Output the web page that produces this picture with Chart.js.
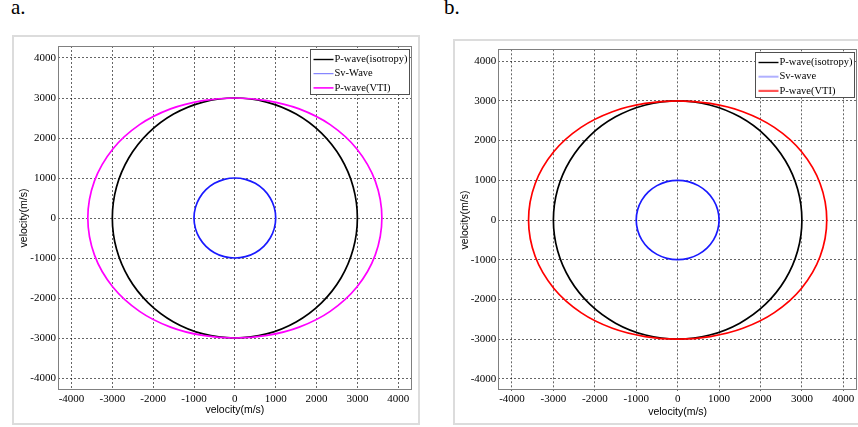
<!DOCTYPE html>
<html>
<head>
<meta charset="utf-8">
<script src="https://cdn.jsdelivr.net/npm/chart.js@4.4.1/dist/chart.umd.min.js"></script>
<style>
    body { margin: 0; background: #fff; width: 858px; height: 427px; overflow: hidden; position: relative; }
    .tag { position: absolute; font: 21px "Liberation Serif", serif; line-height: 21px; top: -3px; }
    .frame { position: absolute; border: 2px solid #dcdcdc; box-sizing: border-box; }
    canvas { position: absolute; }
</style>
</head>
<body>
<div class="tag" style="left:11px">a.</div>
<div class="tag" style="left:444px">b.</div>
<div class="frame" style="left:12px;top:35px;width:408px;height:390px"></div>
<div class="frame" style="left:453px;top:39px;width:420px;height:386px"></div>
<canvas id="chartA" width="406" height="388" style="left:13px;top:36px"></canvas>
<canvas id="chartB" width="406" height="386" style="left:454px;top:40px"></canvas>
<script>
// Polar readings of the wave fronts (angle from the +x axis, radius in m/s)
const angleDeg = [0, 15, 30, 45, 60, 75, 90, 105, 120, 135, 150, 165,
                  180, 195, 210, 225, 240, 255, 270, 285, 300, 315, 330, 345];
const pIsoRadius = [3000, 3000, 3000, 3000, 3000, 3000, 3000, 3000, 3000, 3000, 3000, 3000,
                    3000, 3000, 3000, 3000, 3000, 3000, 3000, 3000, 3000, 3000, 3000, 3000];
const svRadius = [1000, 1000, 1000, 1000, 1000, 1000, 1000, 1000, 1000, 1000, 1000, 1000,
                  1000, 1000, 1000, 1000, 1000, 1000, 1000, 1000, 1000, 1000, 1000, 1000];
const pVtiRadius = [3600, 3560, 3450, 3300, 3150, 3040, 3000, 3040, 3150, 3300, 3450, 3560,
                    3600, 3560, 3450, 3300, 3150, 3040, 3000, 3040, 3150, 3300, 3450, 3560];

const tickValues = [-4000, -3000, -2000, -1000, 0, 1000, 2000, 3000, 4000];
const axisTitle = 'velocity(m/s)';

function toPoints(radius) {
    return angleDeg.map((deg, k) => {
        const a = deg * Math.PI / 180;
        return { x: radius[k] * Math.cos(a), y: radius[k] * Math.sin(a) };
    });
}

// make every line a closed loop, the same way radar lines are closed
const closeLoops = {
    id: 'closeLoops',
    afterDatasetsUpdate(chart) {
        chart.getSortedVisibleDatasetMetas().forEach(meta => {
            const line = meta.dataset;
            if (!line) return;
            line._loop = true;
            line._fullLoop = true;
            line._pointsUpdated = false;
            delete line._segments;
            delete line._path;
        });
    }
};

// framed chart area + boxed legend drawn inside the plot
const boxLegend = {
    id: 'boxLegend',
    afterDraw(chart, args, opts) {
        const ctx = chart.ctx;
        const area = chart.chartArea;
        ctx.save();
        ctx.strokeStyle = '#808080';
        ctx.lineWidth = 1;
        ctx.strokeRect(Math.round(area.left) + 0.5, Math.round(area.top) + 0.5,
            Math.round(area.right - area.left) - 1, Math.round(area.bottom - area.top) - 1);

        ctx.font = '10.5px "Liberation Serif", serif';
        const labels = chart.data.datasets.map(d => d.label);
        const textW = Math.max(...labels.map(t => ctx.measureText(t).width));
        const w = Math.round(opts.sampleStart + opts.sampleLength + 1 + textW + 2);
        const h = 45;
        const x = Math.round(area.right - 3 - w);
        const y = Math.round(area.top + 3);
        ctx.fillStyle = '#fff';
        ctx.fillRect(x, y, w, h);
        ctx.strokeStyle = '#505050';
        ctx.strokeRect(x + 0.5, y + 0.5, w, h);
        ctx.textBaseline = 'middle';
        labels.forEach((t, i) => {
            const cy = y + 10.5 + i * 14.2;
            ctx.strokeStyle = opts.colors[i];
            ctx.lineWidth = opts.widths[i];
            ctx.beginPath();
            ctx.moveTo(x + opts.sampleStart, cy);
            ctx.lineTo(x + opts.sampleStart + opts.sampleLength, cy);
            ctx.stroke();
            ctx.fillStyle = '#000';
            ctx.fillText(t, x + opts.sampleStart + opts.sampleLength + 1, cy);
        });
        ctx.restore();
    }
};

function makeChart(id, svLabel, vtiColor, legendColors, legendWidths, geo) {
    const line = (label, radius, color, order) => ({
        label: label,
        data: toPoints(radius),
        borderColor: color,
        borderWidth: 1.7,
        pointRadius: 0,
        fill: false,
        tension: 0.34,
        order: order
    });
    const tickFont = { family: '"Liberation Serif", serif', size: 11 };
    const titleFont = { family: '"Liberation Sans", Arial, sans-serif', size: 10.5 };
    const grid = { color: 'rgba(0,0,0,0.6)', lineWidth: 1, drawTicks: false };
    const border = { display: false, dash: [2, 2] };
    return new Chart(document.getElementById(id), {
        type: 'line',
        data: {
            datasets: [
                line('P-wave(isotropy)', pIsoRadius, '#000000', 3),
                line(svLabel, svRadius, '#1a1aff', 2),
                line('P-wave(VTI)', pVtiRadius, vtiColor, 1)
            ]
        },
        options: {
            responsive: false,
            animation: false,
            devicePixelRatio: 1,
            layout: { padding: { left: 0, top: geo.top, right: geo.right, bottom: 0 } },
            plugins: {
                legend: { display: false },
                tooltip: { enabled: false },
                boxLegend: { colors: legendColors, widths: legendWidths, sampleStart: 3.5, sampleLength: 20 }
            },
            scales: {
                x: {
                    type: 'linear',
                    min: -4330,
                    max: 4330,
                    afterBuildTicks: s => { s.ticks = tickValues.map(v => ({ value: v })); },
                    afterFit: s => { s.height = geo.xHeight; },
                    border: border,
                    grid: grid,
                    ticks: { color: '#000', font: tickFont, padding: geo.xPad, maxRotation: 0, callback: v => String(v) },
                    title: { display: true, text: axisTitle, color: '#000', font: titleFont, padding: { top: 0, bottom: 7.5 } }
                },
                y: {
                    type: 'linear',
                    min: -4300,
                    max: 4300,
                    afterBuildTicks: s => { s.ticks = tickValues.map(v => ({ value: v })); },
                    afterFit: s => { s.width = geo.yWidth; },
                    border: border,
                    grid: grid,
                    ticks: { color: '#000', font: tickFont, padding: 2, callback: v => String(v) },
                    title: { display: true, text: axisTitle, color: '#000', font: titleFont, padding: { top: 4.7, bottom: 0 } }
                }
            }
        },
        plugins: [closeLoops, boxLegend]
    });
}

makeChart('chartA', 'Sv-Wave', '#ff00ff',
    ['#000000', '#6a6aff', '#ff00ff'], [1.4, 1, 1.6],
    { top: 10, right: 7.3, xHeight: 34, yWidth: 45, xPad: 3 });
makeChart('chartB', 'Sv-wave', '#ff0000',
    ['#000000', '#b0b0ff', '#ff5555'], [1.4, 2, 2.2],
    { top: 9.3, right: 3, xHeight: 35.3, yWidth: 44.3, xPad: 2 });
</script>
</body>
</html>
